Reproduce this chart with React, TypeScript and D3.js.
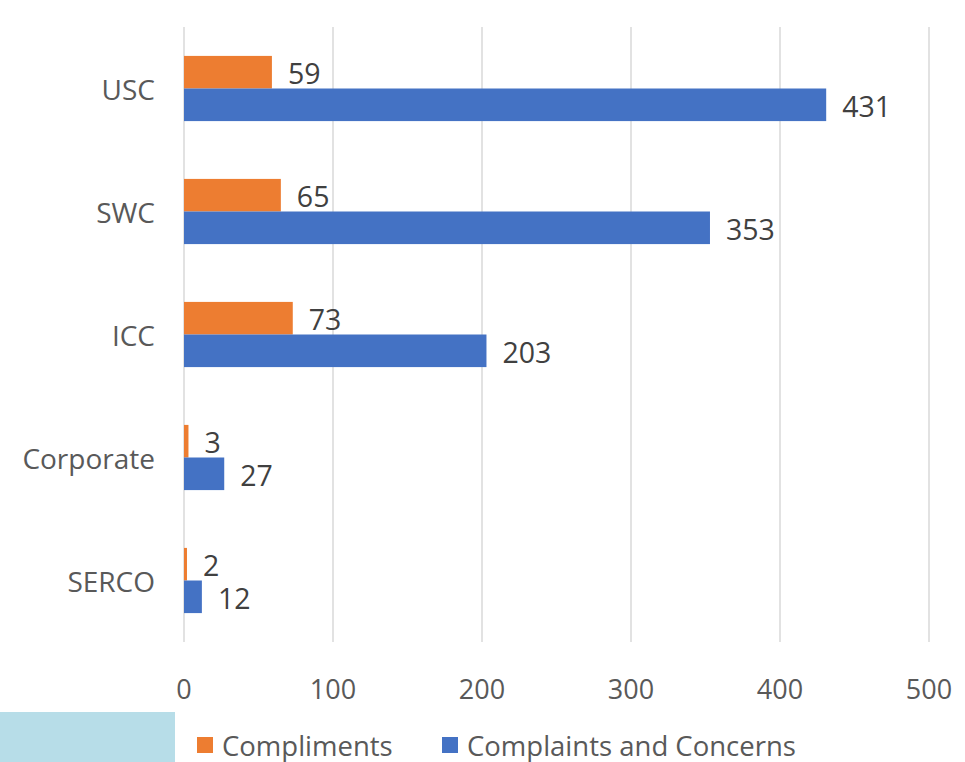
import { useEffect, useRef } from 'react';
import * as d3 from 'd3';

const categories = ['USC', 'SWC', 'ICC', 'Corporate', 'SERCO'];
const compliments = [59, 65, 73, 3, 2];
const complaints = [431, 353, 203, 27, 12];
const xTicks = [0, 100, 200, 300, 400, 500];

const seriesNames = ['Compliments', 'Complaints and Concerns'];
const seriesColors = ['#ed7d31', '#4472c4'];

export default function App() {
  const svgRef = useRef<SVGSVGElement>(null);

  useEffect(() => {
    if (!svgRef.current) return;
    const width = 965;
    const height = 762;
    const font = '"Open Sans", sans-serif';

    const svg = d3.select(svgRef.current);
    svg.selectAll('*').remove();
    svg.attr('width', width).attr('height', height);

    svg.append('rect').attr('width', width).attr('height', height).attr('fill', '#ffffff');

    const x = d3.scaleLinear().domain([0, 500]).range([184, 929]);
    const y0 = d3.scaleBand().domain(categories).range([27, 642]).paddingInner(0.47).paddingOuter(0.235);
    const y1 = d3.scaleBand().domain(['c', 'k']).range([0, y0.bandwidth()]);

    // gridlines
    svg.append('g')
      .selectAll('line')
      .data(xTicks)
      .join('line')
      .attr('x1', d => x(d))
      .attr('x2', d => x(d))
      .attr('y1', 27)
      .attr('y2', 642)
      .attr('stroke', '#d9d9d9')
      .attr('stroke-width', 1.5);

    // tick labels
    svg.append('g')
      .selectAll('text')
      .data(xTicks)
      .join('text')
      .attr('x', d => x(d))
      .attr('y', 688)
      .attr('text-anchor', 'middle')
      .attr('dominant-baseline', 'central')
      .style('font-family', font)
      .style('font-size', '27px')
      .style('fill', '#595959')
      .text(d => d);

    // category labels
    svg.append('g')
      .selectAll('text')
      .data(categories)
      .join('text')
      .attr('x', 155)
      .attr('y', d => (y0(d) || 0) + y0.bandwidth() / 2)
      .attr('text-anchor', 'end')
      .attr('dominant-baseline', 'central')
      .style('font-family', font)
      .style('font-size', '28px')
      .style('fill', '#595959')
      .text(d => d);

    const rows = categories.map((c, i) => ({ c, vals: [compliments[i], complaints[i]] }));

    const groups = svg.append('g')
      .selectAll('g')
      .data(rows)
      .join('g')
      .attr('transform', d => `translate(0,${y0(d.c)})`);

    groups.selectAll('rect')
      .data(d => d.vals.map((v, j) => ({ v, j })))
      .join('rect')
      .attr('x', x(0))
      .attr('y', d => y1(d.j === 0 ? 'c' : 'k') || 0)
      .attr('width', d => x(d.v) - x(0))
      .attr('height', y1.bandwidth())
      .attr('fill', d => seriesColors[d.j]);

    groups.selectAll('text')
      .data(d => d.vals.map((v, j) => ({ v, j })))
      .join('text')
      .attr('x', d => x(d.v) + 16)
      .attr('y', d => (y1(d.j === 0 ? 'c' : 'k') || 0) + y1.bandwidth() / 2 + 1)
      .attr('dominant-baseline', 'central')
      .style('font-family', font)
      .style('font-size', '28.5px')
      .style('fill', '#404040')
      .text(d => d.v);

    // light blue block bottom left
    svg.append('rect')
      .attr('x', 0)
      .attr('y', 712)
      .attr('width', 175)
      .attr('height', 50)
      .attr('fill', '#b7dde8');

    // legend
    const legendX = [197, 442];
    seriesNames.forEach((name, i) => {
      const g = svg.append('g').attr('transform', `translate(${legendX[i]},737)`);
      g.append('rect').attr('width', 16).attr('height', 16).attr('fill', seriesColors[i]);
      g.append('text')
        .attr('x', 25)
        .attr('y', 8)
        .attr('dominant-baseline', 'central')
        .style('font-family', font)
        .style('font-size', '27.5px')
        .style('fill', '#595959')
        .text(name);
    });
  }, []);

  return (
    <div style={{ position: 'absolute', left: 0, top: 0 }}>
      <svg ref={svgRef} style={{ display: 'block' }}></svg>
    </div>
  );
}
